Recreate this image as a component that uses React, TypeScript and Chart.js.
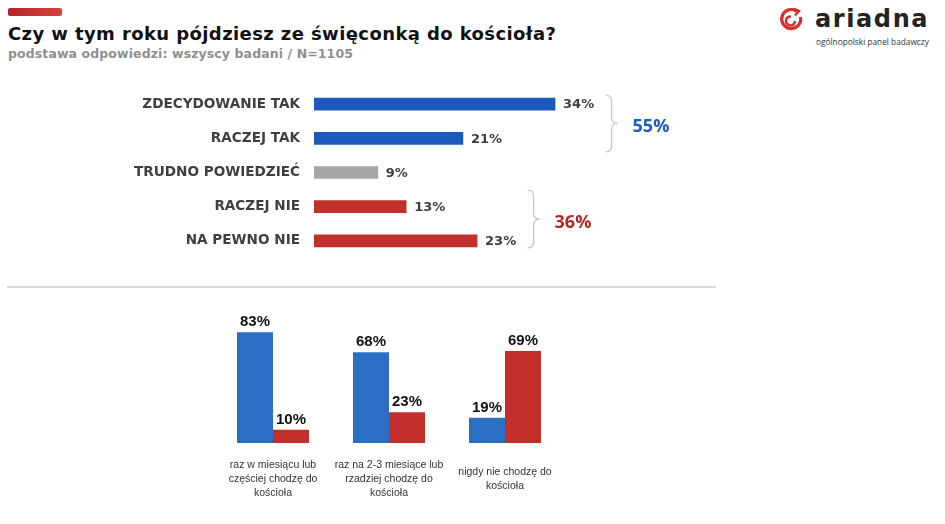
import React, { useEffect, useRef } from "react";
import { Chart, registerables } from "chart.js";

Chart.register(...registerables);

// ---------- data ----------
const answerLabels = ["ZDECYDOWANIE TAK", "RACZEJ TAK", "TRUDNO POWIEDZIEĆ", "RACZEJ NIE", "NA PEWNO NIE"];
const answerValues = [34, 21, 9, 13, 23];
const answerColors = ["#1c59bd", "#1c59bd", "#a6a6a6", "#c0302c", "#c0302c"];
const yesGroup = [0, 1];
const noGroup = [3, 4];

const freqLabels = [
  ["raz w miesiącu lub", "częściej chodzę do", "kościoła"],
  ["raz na 2-3 miesiące lub", "rzadziej chodzę do", "kościoła"],
  ["nigdy nie chodzę do", "kościoła"],
];
const freqYes = [83, 68, 19];
const freqNo = [10, 23, 69];

const titleText = "Czy w tym roku pójdziesz ze święconką do kościoła?";
const subtitleText = "podstawa odpowiedzi: wszyscy badani / N=1105";

// ---------- helpers ----------
function drawBrace(ctx: CanvasRenderingContext2D, x: number, y1: number, y2: number, w: number) {
  const ym = (y1 + y2) / 2;
  const r = 6;
  const xm = x + w / 2;
  ctx.beginPath();
  ctx.moveTo(x, y1);
  ctx.quadraticCurveTo(xm, y1, xm, y1 + r);
  ctx.lineTo(xm, ym - r);
  ctx.quadraticCurveTo(xm, ym, x + w, ym);
  ctx.quadraticCurveTo(xm, ym, xm, ym + r);
  ctx.lineTo(xm, y2 - r);
  ctx.quadraticCurveTo(xm, y2, x, y2);
  ctx.stroke();
}

const topLabelPlugin = {
  id: "topLabels",
  afterDatasetsDraw(chart: any) {
    const ctx = chart.ctx as CanvasRenderingContext2D;
    const meta = chart.getDatasetMeta(0);
    const xs = chart.scales.x;
    ctx.save();
    ctx.font = "bold 13px 'DejaVu Sans'";
    ctx.fillStyle = "#3f3f3f";
    ctx.textAlign = "left";
    ctx.textBaseline = "middle";
    meta.data.forEach((bar: any, i: number) => {
      ctx.fillText(answerValues[i] + "%", bar.x + 8, bar.y + 1);
    });
    const groups = [
      { idx: yesGroup, color: "#1c5cbf", above: 9, below: 13.5 },
      { idx: noGroup, color: "#b02a25", above: 16.5, below: 7 },
    ];
    groups.forEach((g) => {
      const maxV = Math.max(...g.idx.map((i) => answerValues[i]));
      const sum = g.idx.reduce((a, i) => a + answerValues[i], 0);
      const bx = xs.getPixelForValue(maxV) + 50.5;
      const yA = meta.data[g.idx[0]].y - g.above;
      const yB = meta.data[g.idx[g.idx.length - 1]].y + g.below;
      ctx.strokeStyle = "#c8c8c8";
      ctx.lineWidth = 1.3;
      drawBrace(ctx, bx, yA, yB, 12);
      ctx.fillStyle = g.color;
      ctx.font = "bold 18px 'Open Sans'";
      ctx.fillText(sum + "%", bx + 27, (yA + yB) / 2 + 3.5);
    });
    ctx.restore();
  },
};

const bottomLabelPlugin = {
  id: "bottomLabels",
  afterDatasetsDraw(chart: any) {
    const ctx = chart.ctx as CanvasRenderingContext2D;
    ctx.save();
    ctx.font = "bold 15px 'Liberation Sans'";
    ctx.fillStyle = "#111111";
    ctx.textAlign = "center";
    ctx.textBaseline = "alphabetic";
    chart.data.datasets.forEach((ds: any, d: number) => {
      const meta = chart.getDatasetMeta(d);
      meta.data.forEach((bar: any, i: number) => {
        ctx.fillText(ds.data[i] + "%", bar.x, bar.y - 6);
      });
    });
    ctx.restore();
  },
};

function TopChart() {
  const ref = useRef<HTMLCanvasElement>(null);
  useEffect(() => {
    const chart = new Chart(ref.current!, {
      type: "bar",
      data: {
        labels: answerLabels,
        datasets: [{ label: "odpowiedzi", data: answerValues, backgroundColor: answerColors, barThickness: 12 }],
      },
      options: {
        indexAxis: "y",
        animation: false,
        responsive: false,
        maintainAspectRatio: false,
        layout: { padding: { left: 0, right: 276.5, top: 0, bottom: 0 } },
        plugins: { legend: { display: false }, tooltip: { enabled: false } },
        scales: {
          x: { display: false, min: 0, max: 50 },
          y: {
            grid: { display: false, drawTicks: false },
            border: { display: false },
            ticks: {
              color: "#3f3f3f",
              font: { family: "DejaVu Sans", weight: "bold", size: 13.6 },
              padding: 14,
            },
            afterFit: (s: any) => {
              s.width = 314;
              s.paddingTop = 0;
              s.paddingBottom = 0;
            },
          },
        },
      },
      plugins: [topLabelPlugin],
    } as any);
    return () => chart.destroy();
  }, []);
  return <canvas ref={ref} width={945} height={171} style={{ position: "absolute", left: 0, top: 87, display: "block" }} />;
}

function BottomChart() {
  const ref = useRef<HTMLCanvasElement>(null);
  useEffect(() => {
    const chart = new Chart(ref.current!, {
      type: "bar",
      data: {
        labels: freqLabels,
        datasets: [
          { label: "tak", data: freqYes, backgroundColor: "#2a6fc4", categoryPercentage: 0.621, barPercentage: 1 },
          { label: "nie", data: freqNo, backgroundColor: "#c12f2b", categoryPercentage: 0.621, barPercentage: 1 },
        ],
      },
      options: {
        animation: false,
        responsive: false,
        maintainAspectRatio: false,
        layout: { padding: { left: 215, right: 382, top: 19.5, bottom: 0 } },
        plugins: { legend: { display: false }, tooltip: { enabled: false } },
        scales: {
          x: {
            grid: { display: false, drawTicks: false },
            border: { display: false },
            ticks: {
              color: "#333333",
              font: { family: "Liberation Sans", size: 10.5, lineHeight: 1.33 },
              padding: 22,
              autoSkip: false,
              maxRotation: 0,
              minRotation: 0,
              crossAlign: "center",
            },
            afterFit: (s: any) => {
              s.height = 81;
            },
          },
          y: { display: false, min: 0, max: 100 },
        },
      },
      plugins: [bottomLabelPlugin],
    } as any);
    return () => chart.destroy();
  }, []);
  return <canvas ref={ref} width={945} height={234} style={{ position: "absolute", left: 0, top: 290, display: "block" }} />;
}

function Logo() {
  return (
    <div style={{ position: "absolute", left: 778, top: 4, width: 160, height: 46 }}>
      <svg width={28} height={30} style={{ position: "absolute", left: 0, top: 2 }}>
        <path d="M 19 5.5 A 9.5 9.5 0 1 0 22.5 11" stroke="#d2322d" strokeWidth={3.2} fill="none" />
        <path d="M 15.5 2.5 L 21 5 L 17 9.5" stroke="#d2322d" strokeWidth={2.4} fill="none" />
        <path d="M 17 15 A 4.5 4.5 0 1 1 13 10.5" stroke="#d2322d" strokeWidth={2.6} fill="none" />
      </svg>
      <div
        style={{
          position: "absolute",
          left: 37,
          top: 3,
          font: "bold 24px 'DejaVu Sans'",
          lineHeight: "24px",
          color: "#232323",
          letterSpacing: "1.6px",
        }}
      >
        ariadna
      </div>
      <div
        style={{
          position: "absolute",
          left: 38,
          top: 33,
          font: "8.3px 'Open Sans'",
          lineHeight: "9px",
          color: "#333",
          whiteSpace: "nowrap",
        }}
      >
        ogólnopolski panel badawczy
      </div>
    </div>
  );
}

export default function App() {
  useEffect(() => {
    document.body.style.margin = "0";
  }, []);
  return (
    <div style={{ position: "absolute", left: 0, top: 0, width: 945, height: 524, background: "#ffffff", overflow: "hidden" }}>
      <div
        style={{
          position: "absolute",
          left: 8,
          top: 8,
          width: 54,
          height: 8,
          borderRadius: 2,
          background: "linear-gradient(90deg, #b3262a, #d8433a)",
        }}
      />
      <div
        style={{
          position: "absolute",
          left: 8,
          top: 25,
          font: "bold 18px 'DejaVu Sans'",
          lineHeight: "18px",
          color: "#111",
          whiteSpace: "nowrap",
          letterSpacing: "0.4px",
        }}
      >
        {titleText}
      </div>
      <div
        style={{
          position: "absolute",
          left: 8,
          top: 48.4,
          font: "bold 12.5px 'DejaVu Sans'",
          lineHeight: "12.5px",
          color: "#8f8f8f",
          whiteSpace: "nowrap",
          letterSpacing: "0.1px",
        }}
      >
        {subtitleText}
      </div>
      <Logo />
      <TopChart />
      <div style={{ position: "absolute", left: 7, top: 286, width: 709, height: 1.5, background: "#dadada" }} />
      <BottomChart />
    </div>
  );
}
